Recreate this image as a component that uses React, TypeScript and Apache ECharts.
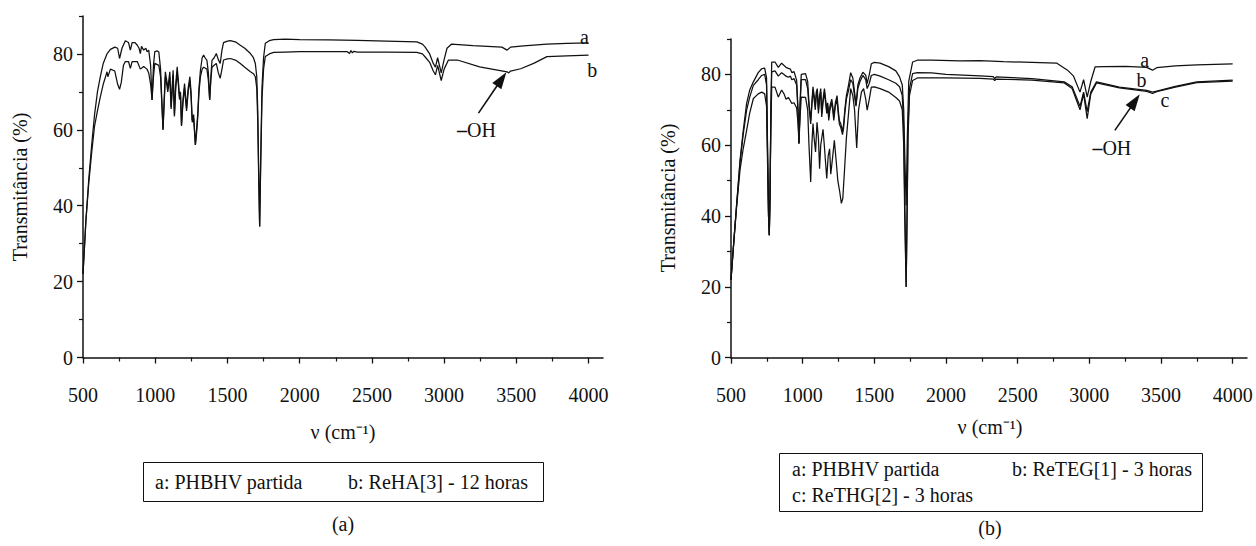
import React, { useEffect, useRef } from "react";
import * as echarts from "echarts";

// ---------- axis ticks ----------
const xMajorTicks = [500, 1000, 1500, 2000, 2500, 3000, 3500, 4000];
const xMinorTicks = [750, 1250, 1750, 2250, 2750, 3250, 3750];
const yMajorTicks = [0, 20, 40, 60, 80];
const yMinorTicks = [10, 30, 50, 70, 90];

// ---------- panel (a): [wavenumber cm-1, transmittance %] ----------
const panelA_PHBHV: [number, number][] = [
  [500, 22], [520, 36], [540, 47], [560, 56], [580, 64], [600, 70], [620, 74], [640, 77.5], [666, 80],
  [690, 81.2], [720, 81.8], [740, 81.5], [753, 78.8], [770, 81.5], [793, 83.5], [815, 83], [828, 81],
  [840, 83], [860, 83], [876, 82.3], [888, 81.5], [897, 80.1], [905, 82], [920, 81], [935, 81.5],
  [943, 80.6], [955, 81], [968, 77], [978, 67.9], [988, 77], [997, 80.6], [1015, 80.8], [1025, 80.5],
  [1037, 76], [1054, 60], [1062, 68], [1070, 75.3], [1080, 73], [1087, 70.9], [1094, 73], [1101, 75.3],
  [1110, 66.1], [1117, 71], [1124, 75.7], [1133, 64], [1142, 72], [1152, 76.6], [1160, 73], [1168, 68.7],
  [1175, 70], [1182, 61.3], [1192, 68], [1203, 72.2], [1210, 69], [1217, 65.7], [1228, 71], [1240, 74],
  [1248, 70], [1256, 62.6], [1266, 64], [1278, 56], [1286, 60], [1294, 64], [1303, 71], [1313, 75.7],
  [1325, 79], [1335, 79.7], [1345, 79], [1358, 78.3], [1368, 75], [1377, 67.9], [1385, 74], [1393, 78.3],
  [1408, 79], [1423, 80.1], [1437, 78.5], [1450, 77.5], [1462, 81], [1473, 83], [1500, 83.4], [1520, 83.5],
  [1560, 83.1], [1589, 82.3], [1620, 81.5], [1659, 80.1], [1680, 79], [1693, 77.5], [1703, 74], [1710, 65],
  [1716, 50], [1723, 34.5], [1730, 52], [1739, 71], [1750, 79], [1762, 82.8], [1790, 83.5], [1820, 83.8],
  [1900, 83.9], [2000, 83.8], [2200, 83.7], [2400, 83.6], [2600, 83.4], [2811, 83.2], [2850, 82.6],
  [2869, 81.8], [2900, 80], [2925, 77.5], [2940, 76.5], [2955, 79], [2980, 75], [3000, 78.5], [3020, 81.5],
  [3052, 82.6], [3200, 82.2], [3400, 81.8], [3436, 81], [3460, 81.8], [3550, 82.1], [3712, 82.6],
  [3850, 82.8], [4000, 82.9],
];

const panelA_ReHA3: [number, number][] = [
  [500, 22], [520, 36], [540, 46], [560, 54], [580, 61], [600, 65], [620, 68.7], [640, 72], [660, 74.5],
  [666, 75.3], [672, 74], [690, 76], [720, 75.5], [740, 72], [753, 70.7], [765, 72.5], [780, 77], [793, 78],
  [815, 78], [828, 76.2], [840, 78], [876, 78], [897, 76], [920, 76.7], [943, 76], [955, 75], [968, 72],
  [978, 67.9], [988, 74], [997, 77.5], [1025, 77], [1037, 74], [1054, 60], [1062, 67], [1070, 74],
  [1080, 72], [1087, 70], [1094, 72], [1101, 74], [1110, 65.5], [1117, 70], [1124, 74.5], [1133, 63.5],
  [1142, 71], [1152, 75], [1160, 72], [1168, 68], [1175, 69], [1182, 61], [1192, 67], [1203, 71],
  [1210, 68], [1217, 65], [1228, 70], [1240, 73], [1248, 69], [1256, 62], [1266, 63], [1278, 56],
  [1286, 59], [1294, 63], [1303, 70], [1313, 74], [1325, 76], [1335, 76.5], [1345, 76.3], [1358, 76],
  [1368, 73], [1377, 67.9], [1385, 73], [1393, 76.5], [1408, 77], [1423, 77.5], [1437, 75], [1450, 73.6],
  [1462, 76], [1473, 78.4], [1500, 78.7], [1520, 78.8], [1560, 78.3], [1589, 77.5], [1620, 76.5],
  [1659, 75.3], [1680, 74.8], [1693, 74], [1703, 71], [1710, 62], [1716, 48], [1723, 34.5], [1730, 50],
  [1739, 68], [1750, 76], [1762, 79.3], [1790, 80], [1820, 80.4], [1900, 80.5], [2000, 80.6], [2200, 80.6],
  [2330, 80.6], [2345, 80.1], [2355, 80.9], [2365, 80.3], [2375, 80.7], [2400, 80.5], [2600, 80.5],
  [2811, 80.4], [2850, 80], [2869, 79.2], [2900, 77.8], [2925, 75.5], [2940, 74.5], [2955, 77], [2980, 73],
  [3000, 76], [3030, 78.4], [3092, 78.4], [3246, 76.6], [3436, 75.3], [3447, 75], [3460, 75.5], [3530, 76.1],
  [3620, 77.5], [3712, 79.3], [3850, 79.5], [4000, 79.7],
];

// ---------- panel (b) ----------
const panelB_PHBHV: [number, number][] = [
  [500, 22], [520, 33], [540, 43.6], [563, 55.8], [585, 64], [609, 71.8], [630, 75.5], [656, 77.9],
  [690, 80.5], [714, 81.6], [735, 81.8], [748, 79], [755, 60], [762, 40], [767, 34.6], [772, 45], [778, 70],
  [784, 83.5], [807, 83.5], [830, 82], [853, 83.2], [870, 82.5], [884, 82], [900, 81.7], [915, 81.5],
  [924, 80.5], [940, 80.8], [958, 78.3], [968, 70], [974, 60.5], [982, 72], [990, 80], [1020, 80.2],
  [1035, 78], [1044, 72], [1056, 67], [1064, 72], [1072, 76.5], [1080, 74], [1088, 71], [1095, 75],
  [1102, 76], [1110, 70], [1118, 74], [1126, 76], [1133, 69], [1142, 73], [1152, 76], [1160, 73],
  [1168, 70], [1175, 72], [1182, 68], [1190, 71], [1203, 73], [1210, 71], [1217, 68], [1228, 72],
  [1240, 74], [1248, 70], [1256, 67], [1266, 66], [1278, 64], [1286, 66], [1294, 70], [1305, 74],
  [1320, 77], [1335, 80.5], [1350, 79], [1365, 74], [1372, 71.3], [1385, 77], [1400, 79], [1420, 80.6],
  [1440, 79.8], [1450, 77.4], [1465, 80], [1479, 83], [1500, 83.4], [1540, 83.2], [1600, 82.2],
  [1650, 81], [1676, 79.3], [1695, 77], [1705, 70], [1712, 58], [1722, 43], [1730, 62], [1740, 78],
  [1767, 83.5], [1800, 84], [1900, 84], [2098, 83.8], [2237, 83.9], [2400, 83.6], [2600, 83.4],
  [2771, 83.2], [2848, 81.2], [2890, 79.5], [2935, 75], [2960, 78.5], [2985, 73.6], [3010, 78],
  [3040, 82.1], [3100, 82.2], [3255, 82.3], [3400, 82], [3441, 81.2], [3470, 81.9], [3600, 82.4],
  [3750, 82.7], [4000, 83],
];

const panelB_ReTEG1: [number, number][] = [
  [500, 22], [520, 33], [540, 43.6], [563, 55], [585, 63], [609, 69.9], [630, 73.5], [656, 76.9],
  [690, 78.5], [714, 79.7], [735, 80], [748, 77], [755, 58], [762, 40], [767, 34.6], [772, 45], [778, 68],
  [784, 80.7], [807, 81], [830, 79.5], [853, 80.5], [870, 80], [884, 79.5], [900, 79.2], [915, 79.5],
  [924, 78.5], [940, 78.8], [958, 77], [968, 69], [974, 60.5], [982, 71], [990, 78.5], [1020, 78.5],
  [1035, 76], [1044, 71], [1056, 66], [1064, 71], [1072, 75.5], [1080, 73], [1088, 70], [1095, 74],
  [1102, 75], [1110, 69], [1118, 73], [1126, 75], [1133, 68], [1142, 72], [1152, 75], [1160, 72],
  [1168, 69], [1175, 71], [1182, 67], [1190, 70], [1203, 72], [1210, 70], [1217, 67], [1228, 71],
  [1240, 73], [1248, 69], [1256, 66], [1266, 65], [1278, 63], [1286, 65], [1294, 69], [1305, 73],
  [1320, 75.5], [1335, 78.5], [1350, 77.5], [1365, 73], [1372, 71], [1385, 76], [1400, 78], [1420, 79.7],
  [1440, 78.5], [1450, 76], [1465, 77.5], [1479, 79.7], [1500, 80], [1540, 79.5], [1600, 78.5],
  [1650, 77.5], [1676, 76.5], [1695, 74], [1705, 65], [1712, 45], [1722, 20], [1728, 40], [1735, 65],
  [1745, 76], [1767, 80.2], [1800, 80.5], [1900, 80.4], [2000, 80], [2237, 79.6], [2330, 79.4],
  [2340, 78.8], [2350, 79.3], [2600, 78.8], [2825, 77.9], [2880, 76.5], [2935, 71], [2960, 75],
  [2985, 69.5], [3010, 75], [3050, 77.9], [3210, 76.4], [3400, 75.5], [3441, 75], [3470, 75.3],
  [3600, 76.6], [3750, 77.9], [4000, 78.4],
];

const panelB_ReTHG2: [number, number][] = [
  [500, 22], [520, 33], [540, 43], [563, 53], [585, 59], [609, 64.2], [630, 69], [656, 73.2], [690, 74.5],
  [714, 75], [735, 74.5], [748, 71], [755, 55], [762, 40], [767, 34.6], [772, 45], [778, 65], [784, 76.4],
  [807, 76.4], [830, 73.6], [853, 75.6], [870, 74.5], [884, 73], [900, 73.5], [915, 72.5], [924, 71.8],
  [940, 72], [958, 70.5], [968, 66], [974, 60.5], [982, 68], [990, 73.6], [1020, 73.5], [1035, 70],
  [1044, 60], [1056, 49.6], [1064, 60], [1072, 66.1], [1080, 62], [1090, 58.1], [1100, 66.5], [1110, 62],
  [1118, 53.4], [1126, 60], [1142, 64.5], [1152, 59.5], [1160, 55], [1168, 50.6], [1178, 57], [1188, 59],
  [1196, 51.8], [1210, 57], [1221, 61.4], [1235, 55], [1245, 50.1], [1258, 47], [1270, 43.6], [1280, 45],
  [1292, 53], [1305, 62], [1320, 69], [1335, 76], [1350, 74], [1362, 70], [1377, 59.2], [1390, 70],
  [1410, 75], [1425, 76], [1440, 73], [1450, 69.9], [1465, 73], [1479, 76.4], [1500, 76.5], [1540, 76],
  [1600, 75], [1650, 73.5], [1676, 72.5], [1695, 70], [1705, 60], [1712, 40], [1722, 20], [1728, 38],
  [1735, 62], [1745, 74], [1767, 78.3], [1800, 79], [1900, 79], [2000, 79], [2237, 78.9], [2330, 78.7],
  [2340, 78.3], [2350, 78.7], [2600, 78.4], [2825, 77.6], [2880, 76], [2935, 70], [2960, 74.5],
  [2985, 67.5], [3010, 74.5], [3050, 77.6], [3210, 76.2], [3400, 75.2], [3441, 74.6], [3470, 75.1],
  [3600, 76.4], [3750, 77.7], [4000, 78.1],
];

// ---------- annotation anchors (data coordinates) ----------
const panelACurveLabels: [string, number, number][] = [["a", 3971, 84.5], ["b", 4025, 75.9]];
const panelBCurveLabels: [string, number, number][] = [["a", 3387, 84], ["b", 3364, 78.3], ["c", 3527, 72.7]];
const panelAArrow = { tail: [3238, 64.4], tip: [3431, 75.2], label: [3224, 59.9] };
const panelBArrow = { tail: [3178, 64.2], tip: [3352, 74.4], label: [3157, 59.2] };

const legendA = ["a: PHBHV partida", "b: ReHA[3] - 12 horas"];
const legendB = ["a: PHBHV partida", "b: ReTEG[1] - 3 horas", "c: ReTHG[2] - 3 horas"];

const FONT = "Liberation Serif";
const INK = "#111";
const FS = 20;

const plain = (v: number) => String(v);

function majorX(grid: number) {
  return {
    type: "value", gridIndex: grid, position: "bottom", min: 500, max: 4100, interval: 500,
    axisLine: { show: true, onZero: false, lineStyle: { color: INK, width: 1.5 } },
    axisTick: { show: true, length: 6, customValues: xMajorTicks, lineStyle: { color: INK, width: 1.3 } },
    axisLabel: { show: true, customValues: xMajorTicks, formatter: plain, margin: 27, fontSize: FS, fontFamily: FONT, color: INK },
    splitLine: { show: false },
  };
}
function minorX(grid: number) {
  return {
    type: "value", gridIndex: grid, position: "bottom", offset: 0, min: 500, max: 4100, interval: 500,
    axisLine: { show: false, onZero: false },
    axisTick: { show: true, length: 4, customValues: xMinorTicks, lineStyle: { color: INK, width: 1.2 } },
    axisLabel: { show: false },
    splitLine: { show: false },
  };
}
function majorY(grid: number) {
  return {
    type: "value", gridIndex: grid, position: "left", min: 0, max: 90, interval: 20,
    axisLine: { show: true, onZero: false, lineStyle: { color: INK, width: 1.5 } },
    axisTick: { show: true, length: 6, customValues: yMajorTicks, lineStyle: { color: INK, width: 1.3 } },
    axisLabel: { show: true, customValues: yMajorTicks, formatter: plain, margin: 10, fontSize: FS, fontFamily: FONT, color: INK },
    splitLine: { show: false },
  };
}
function minorY(grid: number) {
  return {
    type: "value", gridIndex: grid, position: "left", offset: 0, min: 0, max: 90, interval: 20,
    axisLine: { show: false, onZero: false },
    axisTick: { show: true, length: 4, customValues: yMinorTicks, lineStyle: { color: INK, width: 1.2 } },
    axisLabel: { show: false },
    splitLine: { show: false },
  };
}

function lineSeries(data: [number, number][], axis: number) {
  return {
    type: "line", data, xAxisIndex: axis, yAxisIndex: axis, showSymbol: false, symbol: "none",
    lineStyle: { color: INK, width: 1.25 }, silent: true,
  };
}

function txt(x: number, y: number, text: string, extra: any = {}, rotation = 0) {
  return {
    type: "text", x, y, rotation, silent: true,
    style: { text, fontSize: FS, fontFamily: FONT, fill: INK, align: "center", verticalAlign: "middle", ...extra },
  };
}

function ohLabel(x: number, y: number) {
  return txt(x, y, "{d|–}OH", {
    rich: { d: { fontSize: FS, fontFamily: FONT, fontWeight: "bold", fill: INK } },
  });
}

function arrow(tail: number[], tip: number[]) {
  const dx = tip[0] - tail[0];
  const dy = tip[1] - tail[1];
  const len = Math.hypot(dx, dy);
  const ux = dx / len, uy = dy / len;
  const hl = 17, hw = 5.5;
  const bx = tip[0] - ux * hl, by = tip[1] - uy * hl;
  return [
    { type: "line", silent: true, shape: { x1: tail[0], y1: tail[1], x2: bx + ux * 2, y2: by + uy * 2 }, style: { stroke: INK, lineWidth: 1.6 } },
    { type: "polygon", silent: true, shape: { points: [tip, [bx - uy * hw, by + ux * hw], [bx + uy * hw, by - ux * hw]] }, style: { fill: INK } },
  ];
}

export default function App() {
  const ref = useRef<HTMLDivElement>(null);
  useEffect(() => {
    if (!ref.current) return;
    const chart = echarts.init(ref.current, undefined, { renderer: "svg" });
    chart.setOption({
      animation: false,
      backgroundColor: "#fff",
      grid: [
        { left: 83, top: 16, width: 520, height: 341.5, containLabel: false },
        { left: 731, top: 39, width: 516, height: 318.7, containLabel: false },
      ],
      xAxis: [majorX(0), minorX(0), majorX(1), minorX(1)],
      yAxis: [majorY(0), minorY(0), majorY(1), minorY(1)],
      series: [
        lineSeries(panelA_PHBHV, 0),
        lineSeries(panelA_ReHA3, 0),
        lineSeries(panelB_PHBHV, 2),
        lineSeries(panelB_ReTEG1, 2),
        lineSeries(panelB_ReTHG2, 2),
      ],
    });

    const pA = (x: number, y: number) => chart.convertToPixel({ xAxisIndex: 0, yAxisIndex: 0 }, [x, y]) as number[];
    const pB = (x: number, y: number) => chart.convertToPixel({ xAxisIndex: 2, yAxisIndex: 2 }, [x, y]) as number[];

    const graphics: any[] = [];
    // axis titles
    graphics.push(txt(20, 187, "Transmitância (%)", {}, Math.PI / 2));
    graphics.push(txt(668, 198, "Transmitância (%)", {}, Math.PI / 2));
    graphics.push(txt(343, 432, "ν (cm⁻¹)"));
    graphics.push(txt(990, 427, "ν (cm⁻¹)"));

    // curve letters
    panelACurveLabels.forEach(([t, x, y]) => { const p = pA(x, y); graphics.push(txt(p[0], p[1], t)); });
    panelBCurveLabels.forEach(([t, x, y]) => { const p = pB(x, y); graphics.push(txt(p[0], p[1], t)); });

    // arrows + –OH
    graphics.push(...arrow(pA(panelAArrow.tail[0], panelAArrow.tail[1]), pA(panelAArrow.tip[0], panelAArrow.tip[1])));
    { const p = pA(panelAArrow.label[0], panelAArrow.label[1]); graphics.push(ohLabel(p[0], p[1])); }
    graphics.push(...arrow(pB(panelBArrow.tail[0], panelBArrow.tail[1]), pB(panelBArrow.tip[0], panelBArrow.tip[1])));
    { const p = pB(panelBArrow.label[0], panelBArrow.label[1]); graphics.push(ohLabel(p[0], p[1])); }

    // legend boxes
    graphics.push({ type: "rect", silent: true, shape: { x: 143.5, y: 462.5, width: 400, height: 39 }, style: { fill: "none", stroke: INK, lineWidth: 1 } });
    graphics.push(txt(155, 482, legendA[0], { align: "left" }));
    graphics.push(txt(348, 482, legendA[1], { align: "left" }));
    graphics.push({ type: "rect", silent: true, shape: { x: 779.5, y: 453.5, width: 423, height: 58 }, style: { fill: "none", stroke: INK, lineWidth: 1 } });
    graphics.push(txt(792, 469, legendB[0], { align: "left" }));
    graphics.push(txt(1012, 469, legendB[1], { align: "left" }));
    graphics.push(txt(792, 495, legendB[2], { align: "left" }));

    // panel captions
    graphics.push(txt(343, 524, "(a)"));
    graphics.push(txt(990, 528, "(b)"));

    chart.setOption({ graphic: graphics });
    return () => chart.dispose();
  }, []);
  return <div ref={ref} style={{ position: "absolute", left: 0, top: 0, width: 1256, height: 546, background: "#fff" }} />;
}
